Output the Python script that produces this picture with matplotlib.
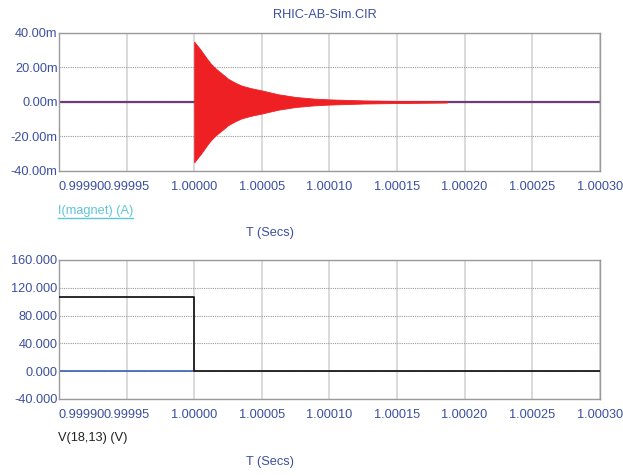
import numpy as np
import matplotlib as mpl
import matplotlib.pyplot as plt
from matplotlib.lines import Line2D

plt.rcParams['font.family'] = ['Liberation Sans', 'DejaVu Sans']

# time axis (s)
x_ticks = [0.99990, 0.99995, 1.00000, 1.00005, 1.00010, 1.00015, 1.00020, 1.00025, 1.00030]
x_ticklabels = ["0.99990", "0.99995", "1.00000", "1.00005", "1.00010",
                "1.00015", "1.00020", "1.00025", "1.00030"]

# I(magnet): ringing envelope after the switch at t = 1.0 s (offset in us, amplitude in mA)
ring_t_us = [0, 1, 3, 5, 8, 10, 12, 15, 18, 22, 25, 30, 35, 42, 50, 62, 75, 88,
             100, 125, 150, 175, 187]
ring_env_ma = [35.0, 34.0, 32.0, 30.0, 26.7, 24.5, 22.5, 20.0, 18.0, 15.5, 13.5, 11.3,
               9.5, 8.0, 6.7, 4.5, 2.9, 2.0, 1.5, 0.9, 0.6, 0.4, 0.3]
i_yticks = [-40, -20, 0, 20, 40]
i_yticklabels = ["-40.00m", "-20.00m", "0.00m", "20.00m", "40.00m"]

# V(18,13): step down at t = 1.0 s
v_t = [0.99990, 1.00000, 1.00000, 1.00030]
v_val = [107.0, 107.0, 0.0, 0.0]
v_yticks = [-40, 0, 40, 80, 120, 160]
v_yticklabels = ["-40.000", "0.000", "40.000", "80.000", "120.000", "160.000"]

BLUE = '#3b4f9e'
FS = 9.2

fig = plt.figure(figsize=(6.23, 4.76), dpi=100)
ax1 = fig.add_axes([0.0947, 0.6408, 0.868, 0.2899])
ax2 = fig.add_axes([0.0947, 0.1618, 0.868, 0.2920])


def style_axes(ax, yticks, yticklabels, ylim):
    ax.set_xlim(x_ticks[0], x_ticks[-1])
    ax.set_ylim(*ylim)
    ax.set_xticks(x_ticks)
    ax.set_xticklabels(x_ticklabels)
    ax.set_yticks(yticks)
    ax.set_yticklabels(yticklabels)
    ax.tick_params(length=0, labelsize=FS, labelcolor=BLUE)
    ax.tick_params(axis='x', pad=7)
    ax.tick_params(axis='y', pad=1)
    ax.get_xticklabels()[0].set_horizontalalignment('left')
    for sp in ax.spines.values():
        sp.set_color('#9a9a9a')
        sp.set_linewidth(1.0)
    ax.xaxis.grid(True, color='#d4d4d4', linewidth=1.2)
    ax.yaxis.grid(True, color='#9a9a9a', linewidth=0.8, linestyle=(0, (1, 1)))
    ax.set_axisbelow(True)


style_axes(ax1, i_yticks, i_yticklabels, (-40, 40))
style_axes(ax2, v_yticks, v_yticklabels, (-40, 160))

# current trace
t_ring = 1.0 + np.array(ring_t_us) * 1e-6
env = np.array(ring_env_ma)
ax1.plot([x_ticks[0], x_ticks[-1]], [0, 0], color='#6f3a7a', linewidth=1.6, zorder=2)
ax1.fill_between(t_ring, -env, env, color='#ee2024', linewidth=0.6, edgecolor='#ee2024', zorder=3)

# voltage trace
ax2.plot([x_ticks[0], 1.0], [0, 0], color='#3b5fb5', linewidth=1.2, zorder=2)
ax2.plot(v_t, v_val, color='#1a1a1a', linewidth=1.3, zorder=3)

fig.text(0.522, 0.968, "RHIC-AB-Sim.CIR", color=BLUE, fontsize=FS, ha='center', va='center')

fig.text(58 / 623, 1 - 211 / 476, "I(magnet) (A)", color='#5ec6d6', fontsize=FS, ha='left', va='center')
fig.add_artist(Line2D([58 / 623, 133 / 623], [1 - 218 / 476, 1 - 218 / 476],
                      color='#5ec6d6', linewidth=1.0, transform=fig.transFigure))
fig.text(270 / 623, 1 - 233 / 476, "T (Secs)", color=BLUE, fontsize=FS, ha='center', va='center')

fig.text(58 / 623, 1 - 438 / 476, "V(18,13) (V)", color='#222222', fontsize=FS, ha='left', va='center')
fig.text(270 / 623, 1 - 462 / 476, "T (Secs)", color=BLUE, fontsize=FS, ha='center', va='center')

fig.savefig("out.png", dpi=100)
